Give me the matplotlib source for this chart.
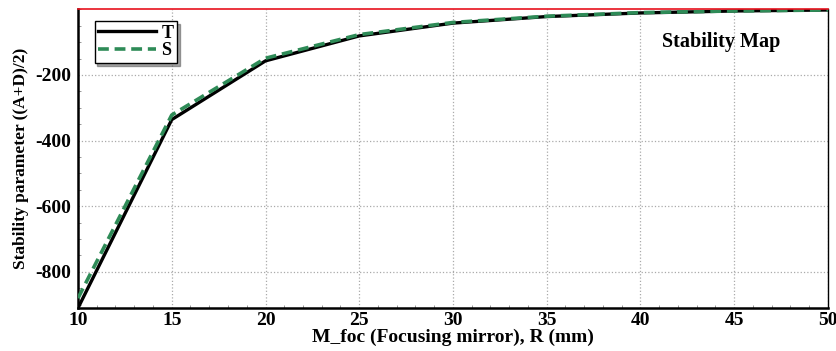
import matplotlib
matplotlib.use('Agg')
import matplotlib.pyplot as plt
from matplotlib.ticker import MultipleLocator, FixedLocator

plt.rcParams['font.family'] = ['Liberation Serif', 'DejaVu Serif']
plt.rcParams['font.weight'] = 'bold'
plt.rcParams['axes.unicode_minus'] = False

# focusing mirror radius (mm) and stability parameter for both planes
R_mm = [10, 15, 20, 25, 30, 35, 40, 45, 50]
T_vals = [-910, -336, -157, -81, -42, -22, -11, -5, -2]
S_vals = [-880, -322, -149, -77, -40, -21, -10, -5, -2]
y_ticks = [-800, -600, -400, -200]
stable_edge = 1

fig = plt.figure(figsize=(8.37, 3.51), dpi=100)
ax = fig.add_axes([78/837, 43/351, 750/837, 299/351])

ax.plot(R_mm, T_vals, color='black', lw=2.4, label='T', zorder=3)
ax.plot(R_mm, S_vals, color='#2e8b57', lw=2.6, ls=(0, (3, 1.6)), label='S', zorder=4)
ax.axhline(stable_edge, color='#e8121e', lw=1.2, zorder=5, clip_on=False)

ax.set_xlim(10, 50)
ax.set_ylim(-910, stable_edge)
ax.xaxis.set_major_locator(MultipleLocator(5))
ax.xaxis.set_minor_locator(MultipleLocator(1))
ax.yaxis.set_major_locator(FixedLocator(y_ticks))
ax.yaxis.set_minor_locator(MultipleLocator(50))
ax.tick_params(which='both', direction='in', labelsize=14)
ax.tick_params(which='major', length=0)
ax.tick_params(axis='x', which='major', pad=3)
ax.tick_params(axis='y', which='major', pad=5)
ax.tick_params(which='minor', length=2, color='#888888')
for lab in ax.get_xticklabels() + ax.get_yticklabels():
    lab.set_fontweight('bold')

ax.grid(True, which='major', color='#aaaaaa', ls=':', lw=0.9)

ax.spines['left'].set_linewidth(1.8)
ax.spines['bottom'].set_linewidth(1.8)
ax.spines['right'].set_linewidth(1.0)
ax.spines['top'].set_visible(False)

ax.set_xlabel('M_foc (Focusing mirror), R (mm)', fontsize=14, fontweight='bold', labelpad=0)
ax.set_ylabel('Stability parameter ((A+D)/2)', fontsize=12.5, fontweight='bold', labelpad=4)

ax.text(0.857, 0.89, 'Stability Map', transform=ax.transAxes, ha='center', va='center',
        fontsize=14.5, fontweight='bold')

leg = ax.legend(loc='upper left', bbox_to_anchor=(0.022, 0.96), fancybox=False, shadow=True,
                framealpha=1, edgecolor='black', fontsize=13, handlelength=3.2,
                handletextpad=0.3, borderpad=0.2, labelspacing=0.05, borderaxespad=0)
leg.get_frame().set_linewidth(1.0)
for t in leg.get_texts():
    t.set_fontweight('bold')

fig.savefig('out.png', dpi=100, facecolor='white')
